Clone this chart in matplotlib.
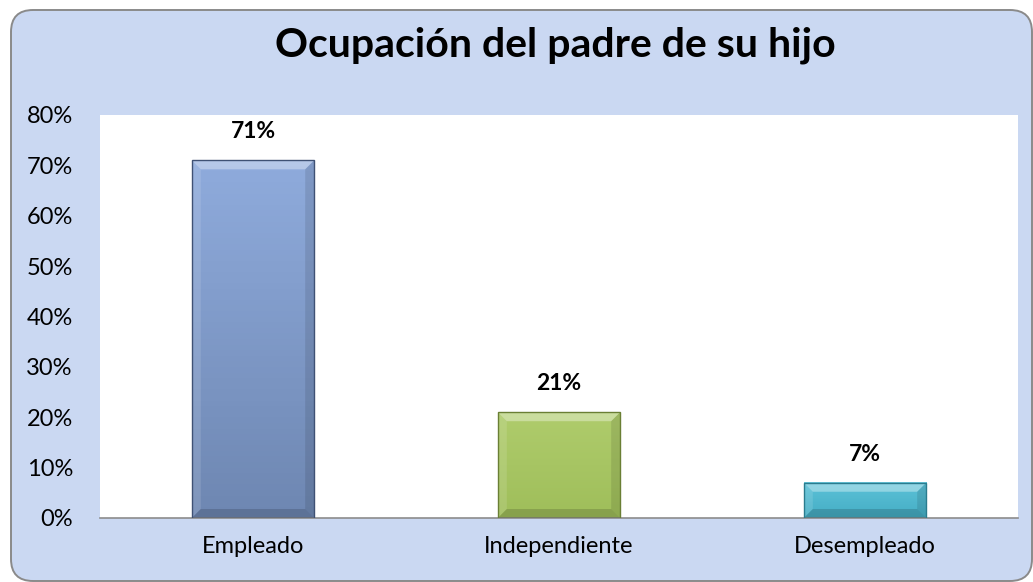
import numpy as np
import matplotlib
matplotlib.use("Agg")
import matplotlib.pyplot as plt
from matplotlib.patches import FancyBboxPatch, Polygon, Rectangle
from matplotlib.colors import LinearSegmentedColormap

# ------------------------------------------------------------------
# data
# ------------------------------------------------------------------
title = "Ocupación del padre de su hijo"
categories = ["Empleado", "Independiente", "Desempleado"]
values = [71, 21, 7]
value_labels = ["71%", "21%", "7%"]
yticks = [0, 10, 20, 30, 40, 50, 60, 70, 80]
ytick_labels = ["0%", "10%", "20%", "30%", "40%", "50%", "60%", "70%", "80%"]

# (top, bottom, edge) per bar
bar_colors = [
    ("#8fabdc", "#6e87b2", "#3f5174"),
    ("#afcc6c", "#9fbe5a", "#6a7f34"),
    ("#5cc2d8", "#45adc4", "#2a7c8e"),
]

plt.rcParams["font.family"] = ["Lato", "DejaVu Sans"]

W, H = 1033, 582
fig = plt.figure(figsize=(W / 100, H / 100), dpi=100)
fig.patch.set_facecolor("white")

# rounded chart background
bg = FancyBboxPatch((0.11, 0.01), 10.21, 5.71,
                    boxstyle="round,pad=0,rounding_size=0.22",
                    transform=fig.dpi_scale_trans, facecolor="#cad8f2",
                    edgecolor="#8a8a8a", linewidth=1.4, zorder=-1)
fig.patches.append(bg)

ax = fig.add_axes([100 / W, (H - 518) / H, 918 / W, 403 / H])
ax.set_facecolor("white")
ax.set_xlim(-0.5, len(categories) - 0.5)
ax.set_ylim(0, 80)

for s in ("top", "right", "left"):
    ax.spines[s].set_visible(False)
ax.spines["bottom"].set_color("#8c8c8c")
ax.spines["bottom"].set_linewidth(1.2)

ax.set_yticks(yticks)
ax.set_yticklabels(ytick_labels, fontsize=17)
ax.set_xticks(range(len(categories)))
ax.set_xticklabels(categories, fontsize=17)
ax.tick_params(axis="y", length=0, pad=19.5)
ax.tick_params(axis="x", length=0, pad=13)

bars = ax.bar(range(len(categories)), values, width=0.4, color="none",
              edgecolor="none", zorder=2)


def shade_bar(rect, top, bottom, edge, px=9):
    x0, y0 = rect.get_x(), rect.get_y()
    x1, y1 = x0 + rect.get_width(), y0 + rect.get_height()
    cmap = LinearSegmentedColormap.from_list("g", [bottom, top])
    grad = np.linspace(0, 1, 64).reshape(-1, 1)
    ax.imshow(grad, cmap=cmap, origin="lower", aspect="auto",
              extent=(x0, x1, y0, y1), zorder=2)

    # bevel faces built in pixel space, mapped back to data
    tr = ax.transData
    (a0, b0), (a1, b1) = tr.transform([(x0, y0), (x1, y1)])
    p = min(px, (b1 - b0) / 2.5)
    ia0, ib0, ia1, ib1 = a0 + p, b0 + p, a1 - p, b1 - p
    inv = tr.inverted()
    faces = [
        ([(a0, b1), (a1, b1), (ia1, ib1), (ia0, ib1)], "white", 0.35),
        ([(a0, b0), (ia0, ib0), (ia0, ib1), (a0, b1)], "white", 0.12),
        ([(a1, b0), (a1, b1), (ia1, ib1), (ia1, ib0)], "black", 0.10),
        ([(a0, b0), (a1, b0), (ia1, ib0), (ia0, ib0)], "black", 0.15),
    ]
    for pts, c, al in faces:
        ax.add_patch(Polygon(inv.transform(pts), closed=True, facecolor=c,
                             alpha=al, edgecolor="none", zorder=3))
    ax.add_patch(Rectangle((x0, y0), x1 - x0, y1 - y0, facecolor="none",
                           edgecolor=edge, linewidth=1.0, zorder=4))


for rect, (top, bottom, edge), lab in zip(bars, bar_colors, value_labels):
    shade_bar(rect, top, bottom, edge)
    ax.annotate(lab, (rect.get_x() + rect.get_width() / 2, rect.get_height()),
                xytext=(0, 13), textcoords="offset points", ha="center",
                va="bottom", fontsize=16.5, fontweight="bold", zorder=5)

fig.text(555 / W, 1 - 45 / H, title, ha="center", va="center",
         fontsize=29.5, fontweight="bold")

fig.savefig("out.png", dpi=100)
